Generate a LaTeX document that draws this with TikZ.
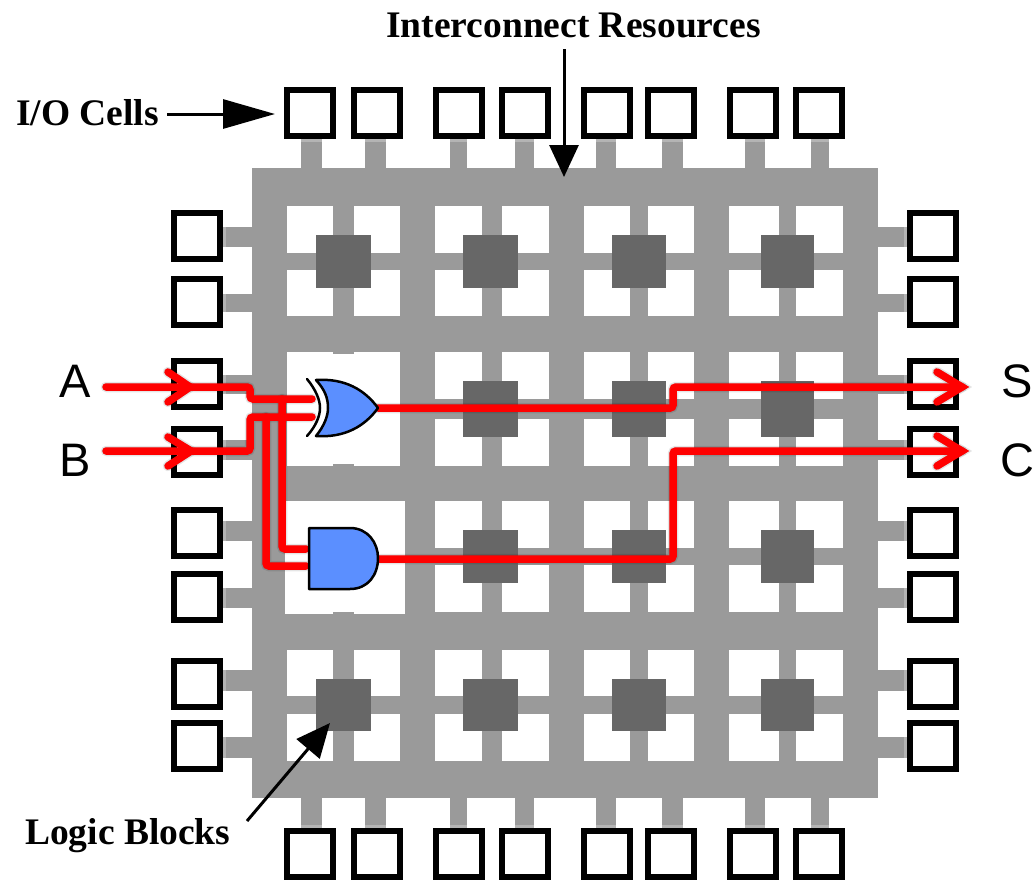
\documentclass[tikz,border=0pt]{standalone}
\usepackage{fontspec}
\setmainfont{Liberation Serif}
\newfontfamily\sansfnt{Liberation Sans}
\usetikzlibrary{arrows.meta}
\definecolor{bus}{HTML}{9A9A9A}
\definecolor{bustip}{HTML}{B4B4B4}
\definecolor{lblock}{HTML}{676767}
\definecolor{gateblue}{HTML}{5B8FFF}
\definecolor{wire}{HTML}{FF0000}
\tikzset{
  iocell/.style={draw=black,fill=white,line width=6pt,minimum width=46pt,minimum height=46pt,inner sep=0pt,outer sep=0pt,rectangle},
  hole/.style={fill=white,draw=none},
  busfill/.style={fill=bus,draw=none},
  tipfill/.style={fill=bustip,draw=none},
  blockfill/.style={fill=lblock,draw=none},
  gatebody/.style={fill=gateblue,draw=black,line width=2.5pt,line join=round},
  callout/.style={font=\bfseries\fontsize{37.5}{40}\selectfont,inner sep=0pt,anchor=base west},
  siglabel/.style={font=\sansfnt\fontsize{47}{50}\selectfont,inner sep=0pt,anchor=base},
  pointer/.style={draw=black,line width=3pt},
  wirestyle/.style={draw=wire,line width=7.5pt,rounded corners=3pt,line cap=round},
  shadowa/.style={draw=black,opacity=.10,line width=10.5pt,rounded corners=3pt,line cap=round,shift={(2pt,3pt)}},
  shadowb/.style={draw=black,opacity=.16,line width=7.5pt,rounded corners=3pt,line cap=round,shift={(3pt,3pt)}},
}
\newcommand{\routes}[1]{%
  \path[#1] (ain) -- (a1) -- (a2) -- (xorA);
  \path[#1] (bin) -- (b1) -- (b2) -- (xorB);
  \path[#1] (t1) -- (t2) -- (andA);
  \path[#1] (t3) -- (t4) -- (andB);
  \path[#1] (xorO) -- (s1) -- (s2) -- (sout);
  \path[#1] (andO) -- (c1) -- (c2) -- (cout);
  \path[#1,line join=miter,rounded corners=0pt] (ach1) -- (ainh) -- (ach2);
  \path[#1,line join=miter,rounded corners=0pt] (bch1) -- (binh) -- (bch2);
  \path[#1,line join=miter,rounded corners=0pt] (sch1) -- (sout) -- (sch2);
  \path[#1,line join=miter,rounded corners=0pt] (cch1) -- (cout) -- (cch2);
}
\begin{document}
\begin{tikzpicture}[x=1pt,y=-1pt]
\useasboundingbox (0,0) rectangle (1034,879);
\fill[white] (0,0) rectangle (1034,879);
% stubs
\foreach \a/\b in {301/322,365/386,450/467,515/534,596/616,662/683,745/765,811/829}{
  \path[busfill] (\a,139) rectangle (\b,168);
  \path[tipfill] (\a,139) rectangle (\b,142);
  \path[busfill] (\a,798) rectangle (\b,828);
  \path[tipfill] (\a,825) rectangle (\b,828);
}
\foreach \a/\b in {227/247,294/312,375/394,440/460,521/541,588/608,670/691,737/758}{
  \path[busfill] (223,\a) rectangle (252,\b);
  \path[tipfill] (223,\a) rectangle (226,\b);
  \path[busfill] (878,\a) rectangle (907,\b);
  \path[tipfill] (904,\a) rectangle (907,\b);
}
% fabric
\path[busfill] (252,168) rectangle (878,798);
\foreach \a/\b in {287/333,354/400,435/482,502/549,584/630,648/694,729/779,796/843}{
  \foreach \c/\d in {206/253,270/316,352/399,419/466,501/548,565/612,650/696,714/761}{
    \path[hole] (\a,\c) rectangle (\b,\d);
  }
}
% cleared cells under the gates
\path[hole] (287,354) rectangle (400,464);
\path[hole] (287,352) rectangle (333,466);
\path[hole] (354,352) rectangle (400,466);
\path[hole] (285,501) rectangle (405,614);
\path[busfill] (333,612) rectangle (354,614);
% logic blocks
\foreach \a/\b in {316/371,463/518,612/666,761/814}{
  \foreach \c/\d in {235/288,381/437,530/583,679/731}{
    \ifnum\a=316 \ifnum\c=381 \else \ifnum\c=530 \else
      \path[blockfill] (\a,\c) rectangle (\b,\d);
    \fi\fi \else
      \path[blockfill] (\a,\c) rectangle (\b,\d);
    \fi
  }
}
% I/O cells
\foreach \n/\xx in {1/310,2/377,3/459,4/525,5/607,6/671,7/753,8/819}{
  \node[iocell] (top\n) at (\xx,113) {};
  \node[iocell] (bot\n) at (\xx,854) {};
}
\foreach \n/\yy in {1/235.5,2/302,3/384,4/451.5,5/533,6/597,7/683.5,8/746}{
  \node[iocell] (lft\n) at (196.5,\yy) {};
  \node[iocell] (rgt\n) at (933,\yy) {};
}
% gate pins and wire bends
\coordinate (ain) at (106,387); \coordinate (ainh) at (190,387);
\coordinate (a1) at (250,387);  \coordinate (a2) at (250,399);  \coordinate (xorA) at (312,399);
\coordinate (ach1) at (168,372); \coordinate (ach2) at (168,402);
\coordinate (bin) at (106,451); \coordinate (binh) at (191,451);
\coordinate (b1) at (250,451);  \coordinate (b2) at (250,417);  \coordinate (xorB) at (312,417);
\coordinate (bch1) at (168,437); \coordinate (bch2) at (168,466);
\coordinate (t1) at (282,399);  \coordinate (t2) at (282,549);  \coordinate (andA) at (306,549);
\coordinate (t3) at (266,417);  \coordinate (t4) at (266,566);  \coordinate (andB) at (306,566);
\coordinate (xorO) at (378,408); \coordinate (s1) at (673,408); \coordinate (s2) at (673,387); \coordinate (sout) at (962,387);
\coordinate (sch1) at (937,372); \coordinate (sch2) at (937,402);
\coordinate (andO) at (378,559); \coordinate (c1) at (673,559); \coordinate (c2) at (673,451); \coordinate (cout) at (962,451);
\coordinate (cch1) at (937,436); \coordinate (cch2) at (937,466);
% wires
\routes{shadowa}
\routes{shadowb}
\routes{wirestyle}
% gates
\path[gatebody] (316,380) .. controls (345,378) and (365,390) .. (378,408)
  .. controls (365,426) and (345,438) .. (316,436)
  .. controls (325,425) and (328,415) .. (328,408)
  .. controls (328,398) and (325,390) .. cycle;
\path[draw=black,line width=2.5pt,line cap=round] (307,379) .. controls (316,390) and (320,400) .. (320,408)
  .. controls (320,416) and (316,426) .. (307,436);
\path[gatebody] (309,528) -- (350,528) .. controls (368,528) and (378,543) .. (378,558)
  .. controls (378,575) and (368,589) .. (350,589) -- (309,589) -- cycle;
% labels
\node[callout] (lblIC) at (386,37) {Interconnect Resources};
\node[callout] (lblIO) at (16,125) {I/O Cells};
\node[callout] (lblLB) at (25,844) {Logic Blocks};
\node[siglabel] (lblA) at (75,397) {A};
\node[siglabel] (lblB) at (75,476) {B};
\node[siglabel] (lblS) at (1017,397) {S};
\node[siglabel] (lblC) at (1017,476) {C};
% pointers
\coordinate (icFrom) at (564,49);  \coordinate (icTo) at (564,177);
\coordinate (ioFrom) at (167,114); \coordinate (ioTo) at (275,114);
\coordinate (lbFrom) at (247,821); \coordinate (lbTo) at (330,723);
\draw[pointer,-{Triangle[length=32pt,width=29pt]}] (icFrom) -- (icTo);
\draw[pointer,-{Triangle[length=52pt,width=29pt]}] (ioFrom) -- (ioTo);
\draw[pointer,-{Triangle[length=34pt,width=30pt]}] (lbFrom) -- (lbTo);
\end{tikzpicture}
\end{document}
